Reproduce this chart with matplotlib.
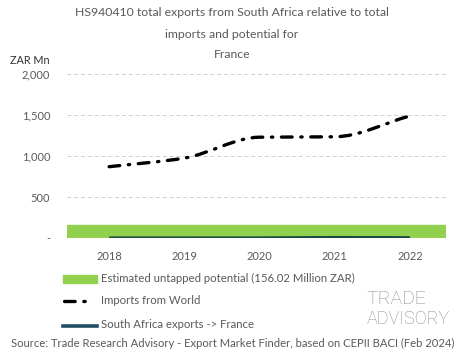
import numpy as np
import matplotlib.pyplot as plt
from matplotlib.path import Path
from matplotlib.patches import PathPatch, Rectangle
from matplotlib.lines import Line2D

plt.rcParams['font.family'] = ['Lato', 'DejaVu Sans']

# data
years = ['2018', '2019', '2020', '2021', '2022']
imports_world = [870, 975, 1230, 1235, 1490]
sa_exports = [2, 2, 3, 8, 6]
untapped = 156.02
yticks = [0, 500, 1000, 1500, 2000]
ytick_labels = ['-', '500', '1,000', '1,500', '2,000']

GREY = '#5a5a5a'
DASHDOT = (0, (3.2, 2.6, 0.4, 2.6))

fig = plt.figure(figsize=(4.65, 3.59), dpi=100)
ax = fig.add_axes([67 / 465, 1 - 238 / 359, (446 - 67) / 465, (238 - 70) / 359])

x = np.arange(len(years))


def smooth_path(xs, ys):
    # monotone cubic bezier through the points (no overshoot)
    xs = np.asarray(xs, float)
    ys = np.asarray(ys, float)
    n = len(xs)
    d = np.diff(ys) / np.diff(xs)
    m = np.zeros(n)
    m[0], m[-1] = d[0], d[-1]
    for i in range(1, n - 1):
        if d[i - 1] * d[i] <= 0:
            m[i] = 0
        else:
            m[i] = 2 / (1 / d[i - 1] + 1 / d[i])
    verts = [(xs[0], ys[0])]
    codes = [Path.MOVETO]
    for i in range(n - 1):
        h = xs[i + 1] - xs[i]
        verts += [(xs[i] + h / 3, ys[i] + m[i] * h / 3),
                  (xs[i + 1] - h / 3, ys[i + 1] - m[i + 1] * h / 3),
                  (xs[i + 1], ys[i + 1])]
        codes += [Path.CURVE4] * 3
    return Path(verts, codes)


# untapped potential band
ax.axhspan(0, untapped, color='#92d050', zorder=1)

# imports from world
ax.add_patch(PathPatch(smooth_path(x, imports_world), fill=False, edgecolor='black',
                       lw=2.4, linestyle=DASHDOT, capstyle='round', zorder=3))

# SA exports
ax.add_patch(PathPatch(smooth_path(x, sa_exports), fill=False, edgecolor='#1c4a40',
                       lw=2.0, zorder=3))

ax.set_xlim(-0.56, 4.48)
ax.set_ylim(0, 2050)
ax.set_xticks(x)
ax.set_xticklabels(years)
ax.set_yticks(yticks)
ax.set_yticklabels(ytick_labels)
ax.tick_params(length=0, labelsize=8, colors=GREY)
ax.tick_params(axis='y', pad=12)
ax.tick_params(axis='x', pad=9)
ax.grid(axis='y', color='#d0d0d0', ls=(0, (4, 3)), lw=0.7)
ax.set_axisbelow(True)
for s in ax.spines.values():
    s.set_visible(False)

title_lines = ['HS940410 total exports from South Africa relative to total',
               'imports and potential for', 'France']
for yy, line in zip([13, 34, 55], title_lines):
    fig.text(232 / 465, 1 - yy / 359, line, ha='center', va='center',
             fontsize=8.8, color=GREY)
fig.text(10 / 465, 1 - 61 / 359, 'ZAR Mn', ha='left', va='center', fontsize=7.8, color='#333333')

# legend
fig.patches.append(Rectangle((63 / 465, 1 - 283 / 359), 34 / 465, 8 / 359,
                             transform=fig.transFigure, color='#92d050'))
fig.lines.append(Line2D([64 / 465, 86 / 465], [1 - 301 / 359] * 2, transform=fig.transFigure,
                        color='black', lw=2.4, linestyle=DASHDOT, dash_capstyle='round'))
fig.lines.append(Line2D([63 / 465, 97 / 465], [1 - 326 / 359] * 2, transform=fig.transFigure,
                        color='#1f4e63', lw=2.6))
for yy, lab in [(278, 'Estimated untapped potential (156.02 Million ZAR)'),
                (301, 'Imports from World'),
                (325, 'South Africa exports -> France')]:
    fig.text(101 / 465, 1 - yy / 359, lab, ha='left', va='center', fontsize=8.2, color=GREY)

# logo
fig.text(366 / 465, 1 - 299 / 359, 'TRADE', ha='left', va='center', fontsize=14,
         color='#8c8c8c', family=['Roboto', 'DejaVu Sans'], fontweight='light')
fig.text(367 / 465, 1 - 319 / 359, 'ADVISORY', ha='left', va='center', fontsize=13,
         color='#8c8c8c', family=['Roboto', 'DejaVu Sans'], fontweight='light')

fig.text(233 / 465, 1 - 343 / 359,
         'Source: Trade Research Advisory - Export Market Finder, based on CEPII BACI (Feb 2024)',
         ha='center', va='center', fontsize=8.1, color=GREY)

fig.savefig('out.png', dpi=100)
